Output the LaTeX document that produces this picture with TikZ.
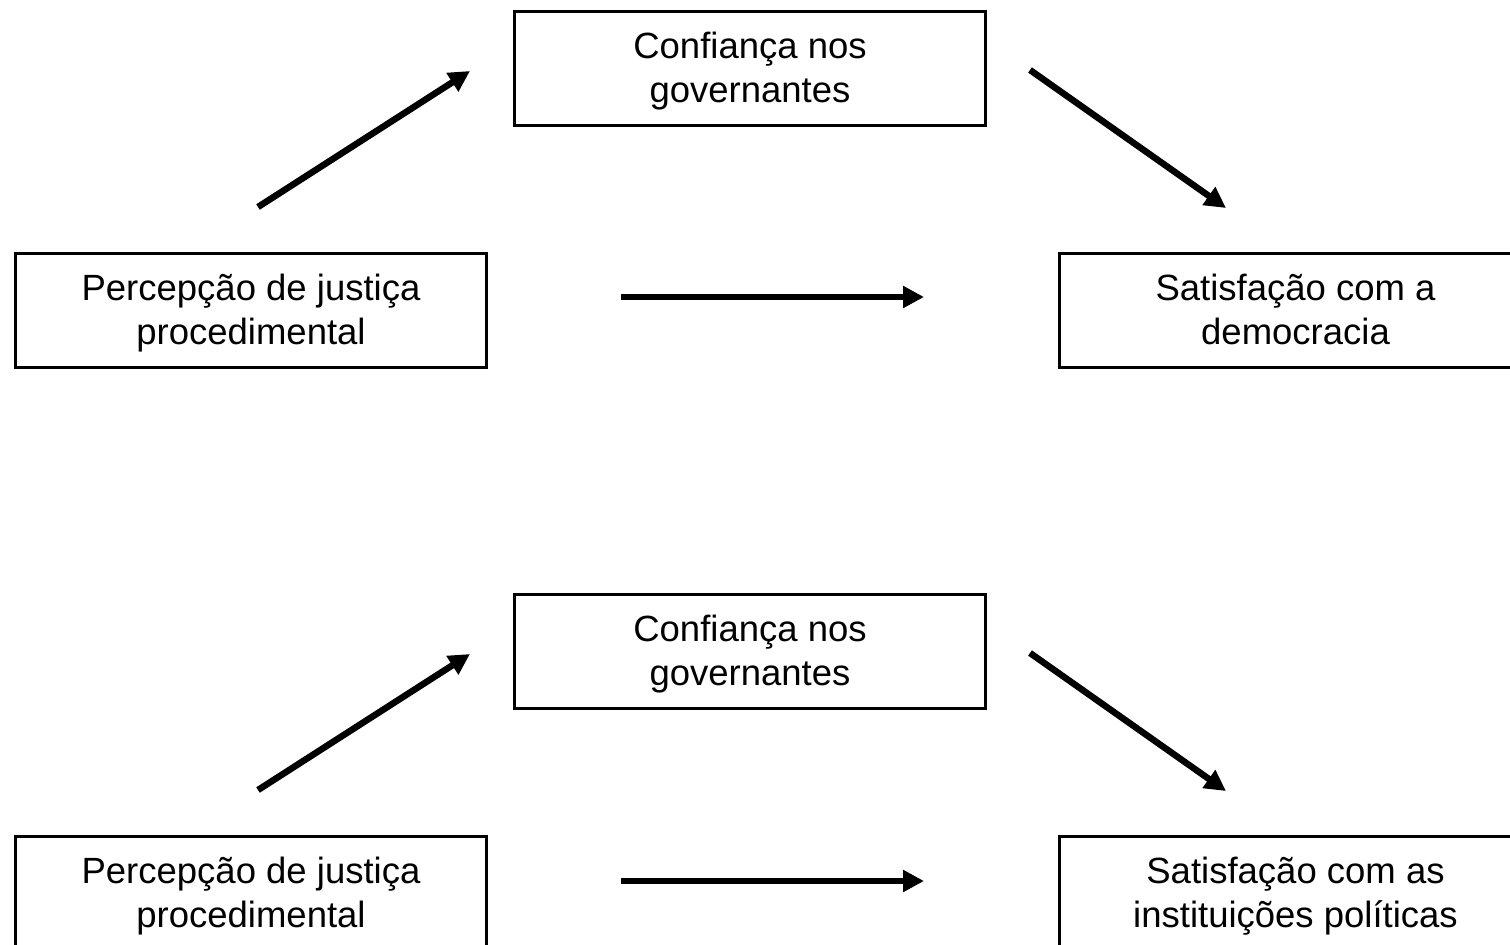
\documentclass[tikz,border=0pt]{standalone}
\usepackage{fontspec}
\setmainfont{Liberation Sans}
\usetikzlibrary{arrows.meta}
\begin{document}
\begin{tikzpicture}[x=1pt,y=-1pt,
  box/.style={draw=black,line width=3pt,minimum height=114pt,minimum width=471pt,
    inner sep=0pt,anchor=north west},
  txt/.style={align=center,font=\fontsize{36.5}{44}\selectfont,yshift=-3pt},
  arr/.style={line width=6.5pt,-{Triangle[length=21pt,width=21pt]}}]
\useasboundingbox (0,0) rectangle (1510,945);
\clip (0,0) rectangle (1510,945);
% top diagram
\node[box,label={[txt]center:Percepção de justiça\\procedimental}] (l1) at (14,252) {};
\node[box,label={[txt]center:Confiança nos\\governantes}] (c1) at (513,10) {};
\node[box,minimum width=472pt,label={[txt,yshift=4pt]center:Satisfação com a\\democracia}] (r1) at (1058,252) {};
\coordinate (a1s) at (258,207); \coordinate (a1e) at (470,71);
\coordinate (a2s) at (1030,70); \coordinate (a2e) at (1226,208);
\coordinate (a3s) at (621,297); \coordinate (a3e) at (924,297);
\draw[arr] (a1s) -- (a1e);
\draw[arr] (a2s) -- (a2e);
\draw[arr] (a3s) -- (a3e);
% bottom diagram
\node[box,label={[txt]center:Percepção de justiça\\procedimental}] (l2) at (14,835) {};
\node[box,label={[txt]center:Confiança nos\\governantes}] (c2) at (513,593) {};
\node[box,minimum width=472pt,label={[txt]center:Satisfação com as\\instituições políticas}] (r2) at (1058,835) {};
\coordinate (b1s) at (258,790); \coordinate (b1e) at (470,654);
\coordinate (b2s) at (1030,653); \coordinate (b2e) at (1226,791);
\coordinate (b3s) at (621,881); \coordinate (b3e) at (924,881);
\draw[arr] (b1s) -- (b1e);
\draw[arr] (b2s) -- (b2e);
\draw[arr] (b3s) -- (b3e);
\end{tikzpicture}
\end{document}
